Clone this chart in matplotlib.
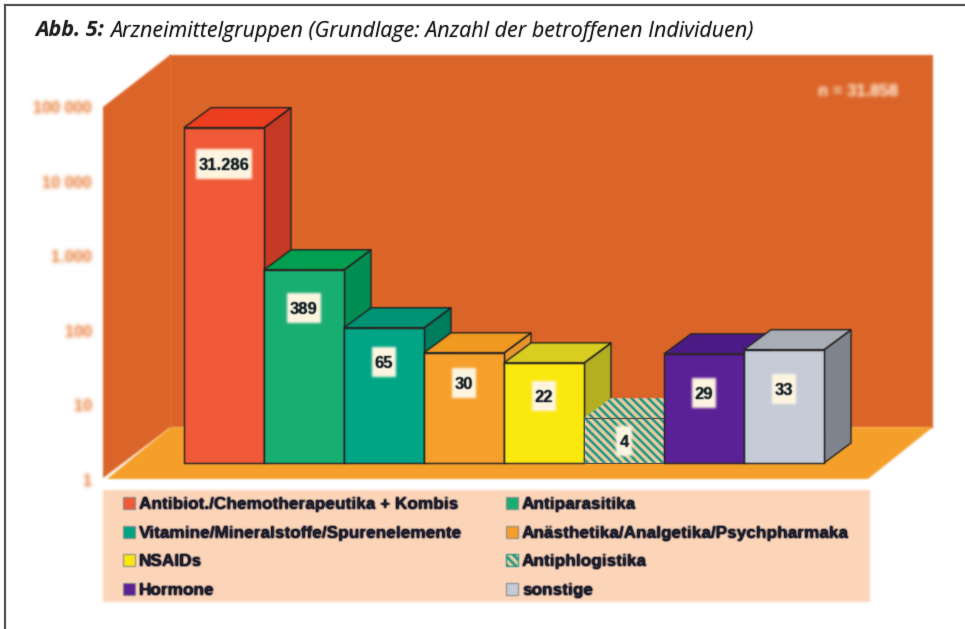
import numpy as np
import matplotlib
matplotlib.use("Agg")
import matplotlib.pyplot as plt
from matplotlib.patches import Polygon, Rectangle
from matplotlib.transforms import IdentityTransform

W, H = 965, 629

groups = ["Antibiot./Chemotherapeutika + Kombis", "Antiparasitika",
          "Vitamine/Mineralstoffe/Spurenelemente", "Anästhetika/Analgetika/Psychpharmaka",
          "NSAIDs", "Antiphlogistika", "Hormone", "sonstige"]
values = [31286, 389, 65, 30, 22, 4, 29, 33]
value_labels = ["31.286", "389", "65", "30", "22", "4", "29", "33"]
tick_values = [1, 10, 100, 1000, 10000, 100000]
tick_labels = ["1", "10", "100", "1.000", "10 000", "100 000"]

front_cols = ["#F05A38", "#18AE72", "#00A585", "#F5A02A", "#FAE80F", "#EBCFA0", "#5A2096", "#C5CCD8"]
top_cols = ["#EC3E1E", "#00A050", "#009274", "#F09A20", "#D9CE20", "#EBCFA0", "#4C1C86", "#A9AEB6"]
side_cols = ["#C53A24", "#008E52", "#007C5E", "#E8952E", "#B3AE22", "#EBCFA0", "#3E1670", "#7F858F"]
label_drop = [36, 38, 34, 30, 33, 23, 39, 39]

DX, DY = 27, 20   # depth of the bars in pixels
HATCH = "\\\\\\\\"
TEAL = "#0E8F84"


def soft(sigma, gain=1.0):
    # gaussian blur for agg_filter, the reference is a soft jpeg
    r = int(3 * sigma) + 1
    k = np.exp(-np.arange(-r, r + 1) ** 2 / (2 * sigma ** 2))
    k = k / k.sum()

    def run(img, dpi):
        a = img[:, :, 3:]
        pre = np.concatenate([img[:, :, :3] * a, a], axis=2)
        pre = np.pad(pre, ((r, r), (r, r), (0, 0)))
        pre = np.apply_along_axis(lambda m: np.convolve(m, k, mode="same"), 0, pre)
        pre = np.apply_along_axis(lambda m: np.convolve(m, k, mode="same"), 1, pre)
        al = pre[:, :, 3:]
        rgb = pre[:, :, :3] / np.maximum(al, 1e-4)
        out = np.concatenate([rgb, al * gain], axis=2)
        return np.clip(out, 0, 1), -r, -r
    return run


plt.rcParams["hatch.linewidth"] = 1.7
fig = plt.figure(figsize=(W / 100, H / 100), dpi=100, facecolor="white")

# background layer in image pixels
bg = fig.add_axes([0, 0, 1, 1])
bg.set_xlim(0, W)
bg.set_ylim(H, 0)
bg.axis("off")

bg.plot([5, 5], [H, 5], color="#555555", lw=1.6)
bg.plot([5, W], [5, 5], color="#555555", lw=1.6)

title_a = bg.text(35, 31, "Abb. 5:", family="Open Sans", style="italic", weight="bold",
                  fontsize=15.5, color="#222222", va="center", agg_filter=soft(0.5, 1.1))
fig.canvas.draw()
x_end = title_a.get_window_extent().x1
bg.text(x_end + 6, 31, "Arzneimittelgruppen (Grundlage: Anzahl der betroffenen Individuen)",
        family="Open Sans", style="italic", fontsize=15.5, color="#222222", va="center",
        agg_filter=soft(0.5, 1.2))

wall = "#DC6429"
bg.add_patch(Polygon([(103, 107), (170, 55), (933, 55), (933, 428), (170, 428), (103, 478)], fc=wall, ec="none",
                     agg_filter=soft(1.0)))
bg.add_patch(Polygon([(170, 427), (933, 427), (868, 479), (107, 479)], fc="#F5A02A", ec="none",
                     agg_filter=soft(1.0)))
bg.plot([170, 170], [55, 427], color="#E0702C", lw=1)
bg.add_patch(Rectangle((103, 490), 767, 112, fc="#FDD5B9", ec="none", agg_filter=soft(1.2)))

bg.text(858, 92, "n = 31.858", family="Liberation Sans", weight="bold", fontsize=12,
        color="#F8D2B4", ha="center", va="center", agg_filter=soft(2.0, 1.4))

# bars, log scale; y=1 sits on the front edge of the bar row
ax = fig.add_axes([184 / W, 1 - 463 / H, 640 / W, 373 / H])
ax.patch.set_alpha(0)
ax.set_yscale("log")
ax.set_xlim(-0.5, 7.5)
ax.set_ylim(1, 100000)
ax.axis("off")

dp = IdentityTransform()
pos = np.arange(len(values))
for i, v in enumerate(values):
    hatched = groups[i] == "Antiphlogistika"
    z = 3 + i
    x0, y0 = ax.transData.transform((i - 0.5, 1))
    x1, y1 = ax.transData.transform((i + 0.5, v))
    ec = TEAL if hatched else "#222222"
    h = HATCH if hatched else None
    side = Polygon([(x1, y0), (x1 + DX, y0 + DY), (x1 + DX, y1 + DY), (x1, y1)], transform=dp,
                   fc=side_cols[i], ec=ec, lw=0 if hatched else 1, hatch=h, zorder=z, clip_on=False,
                   agg_filter=soft(0.6))
    top = Polygon([(x0, y1), (x0 + DX, y1 + DY), (x1 + DX, y1 + DY), (x1, y1)], transform=dp,
                  fc=top_cols[i], ec=ec, lw=0 if hatched else 1, hatch=h, zorder=z, clip_on=False,
                  agg_filter=soft(0.6))
    ax.add_patch(side)
    ax.add_patch(top)
    bars = ax.bar(pos[i], v - 1, width=1, bottom=1, color=front_cols[i], edgecolor=ec,
                  linewidth=0 if hatched else 1, hatch=h, zorder=z, clip_on=False)
    bars[0].set_agg_filter(soft(0.6))
    if hatched:
        # plain outline over the hatching
        ax.bar(pos[i], v - 1, width=1, bottom=1, fill=False, edgecolor="#555555", linewidth=0.8,
               zorder=z, clip_on=False)

for i, v in enumerate(values):
    x_p, y_p = ax.transData.transform((i, v))
    y_p = y_p - label_drop[i]
    t = ax.text(x_p, y_p - 1.5, value_labels[i], transform=dp, family="Liberation Sans",
                weight="bold", fontsize=12, color="#1F2A30", ha="center", va="center", zorder=20,
                agg_filter=soft(0.7, 1.3))
    e = t.get_window_extent(fig.canvas.get_renderer())
    ax.add_patch(Rectangle((e.x0 - 3, y_p - 15), e.width + 6, 30, transform=dp, fc="#FFF6E2", ec="none",
                           zorder=19, clip_on=False, agg_filter=soft(1.3)))

# the tick labels sit on the front plane, under the bar row
for t, lab in zip(tick_values, tick_labels):
    _, y_p = ax.transData.transform((0, t))
    ax.text(92, y_p - 18.5, lab, transform=dp, family="Liberation Sans", weight="bold",
            fontsize=11.8, color="#EFA271", ha="right", va="center", agg_filter=soft(2.0, 1.5), clip_on=False)

# legend
col_x = [123, 506]
row_y = [503, 532, 560, 589]
for i, name in enumerate(groups):
    x = col_x[i % 2]
    y = row_y[i // 2]
    hatched = name == "Antiphlogistika"
    bg.add_patch(Rectangle((x, y - 6), 12, 12, fc=front_cols[i], ec=TEAL if hatched else "#8A8A8A", lw=0.8,
                           hatch=HATCH if hatched else None, agg_filter=soft(0.7)))
    bg.text(x + 16, y + 1.5, name, family="Liberation Sans", weight="bold", fontsize=12.4, color="#20202E",
            va="center", agg_filter=soft(0.9, 1.7))

fig.savefig("out.png", dpi=100, facecolor="white")
